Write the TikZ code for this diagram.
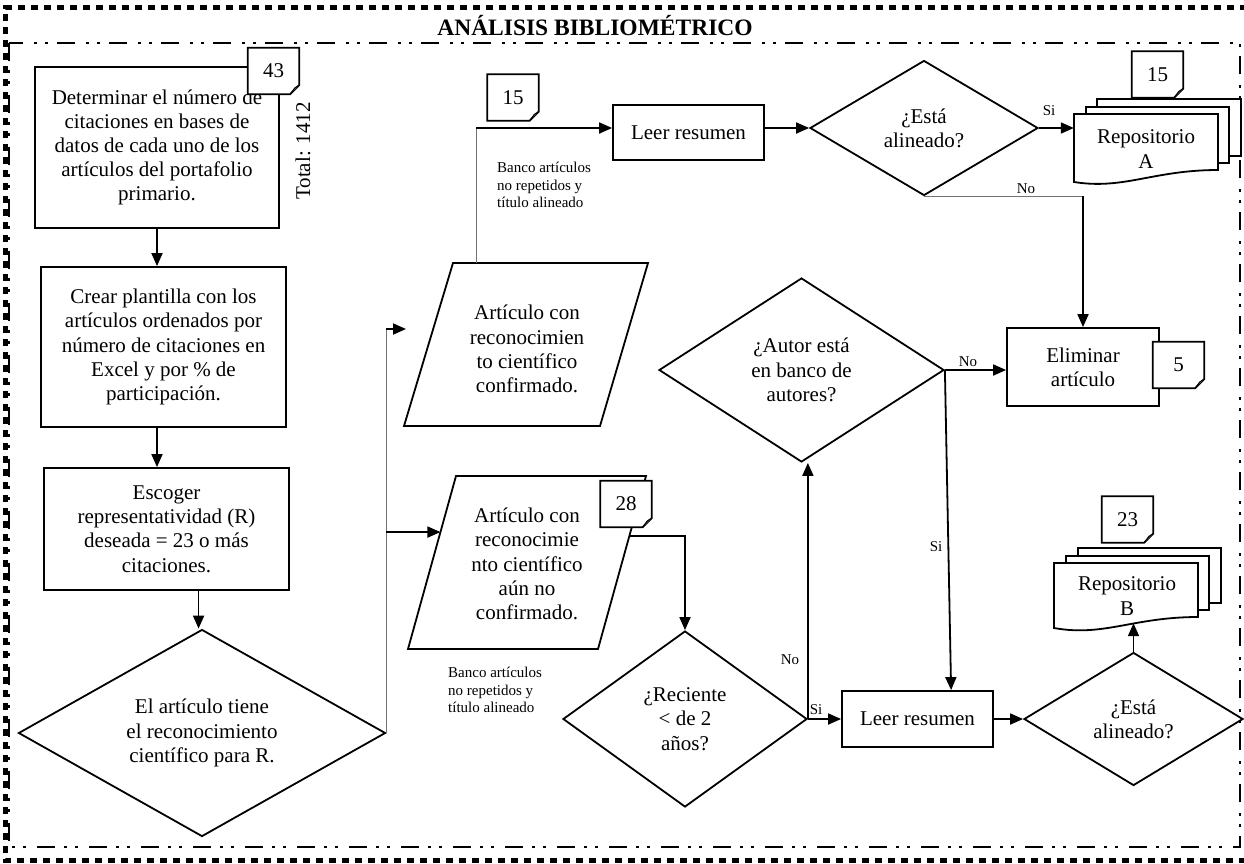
\documentclass[tikz,border=0pt]{standalone}
\usepackage{fontspec}
\setmainfont{Liberation Serif}
\usetikzlibrary{arrows.meta,shapes.geometric,calc}

\newcommand\bigtext{\fontsize{21pt}{24.2pt}\selectfont}
\newcommand\smalltext{\fontsize{15pt}{17.5pt}\selectfont}

% outline of a numbered note with a curled bottom-right corner
\newcommand\notecurl[1]{%
  \draw[ln] (#1.north west) -- (#1.north east) -- ($(#1.south east)+(0,-9)$)
    -- ($(#1.south east)+(-9,0)$) -- (#1.south west) -- cycle;
  \draw[line width=1.1pt, fill=black!55] ($(#1.south east)+(0,-9)$)
    .. controls ($(#1.south east)+(-5,-6)$) .. ($(#1.south east)+(-6,-4)$)
    -- ($(#1.south east)+(-9,0)$);
}

\tikzset{
  ln/.style={line width=1.8pt, draw=black},
  procbox/.style={rectangle, ln, fill=white, inner sep=0pt, align=center, font=\bigtext},
  decision/.style={diamond, ln, fill=white, inner sep=0pt, align=center, font=\bigtext},
  plain/.style={inner sep=0pt, align=center, font=\bigtext},
  notebox/.style={rectangle, fill=white, inner sep=0pt, minimum width=51pt, minimum height=46pt, font=\bigtext},
  flow/.style={line width=1.8pt, draw=black, -{Triangle[length=13pt,width=11pt]}},
  faint/.style={line width=1.4pt, draw=black!55},
  yesno/.style={font=\smalltext, inner sep=0pt, anchor=base},
  bank/.style={font=\smalltext, align=left, inner sep=0pt, anchor=west},
}

\begin{document}
\begin{tikzpicture}[x=1pt, y=-1pt]
\useasboundingbox (0,0) rectangle (1244,863);
\clip (0,0) rectangle (1244,863);

% frames
\draw[line width=5pt, dash pattern=on 7pt off 6pt]
  (1260,7.5) -- (5.5,7.5) -- (5.5,860.5) -- (1260,860.5);
\draw[line width=2.6pt, dash pattern=on 18pt off 9pt on 3pt off 8pt on 3pt off 11pt]
  (9,43) rectangle (1240,847);
\node[font=\fontsize{23.5pt}{26pt}\selectfont\bfseries, anchor=base, inner sep=0pt]
  (title) at (595,35) {ANÁLISIS BIBLIOMÉTRICO};

% left column
\node[procbox, minimum width=244pt, minimum height=161pt] (b1) at (157,147.5)
  {Determinar el número de\\citaciones en bases de\\datos de cada uno de los\\artículos del portafolio\\primario.};
\node[notebox] (n43) at (273.5,71) {43};
\notecurl{n43}
\node[plain, rotate=90] (tot) at (303,151) {Total: 1412};

\node[procbox, minimum width=245pt, minimum height=160pt] (b2) at (163.5,347)
  {Crear plantilla con los\\artículos ordenados por\\número de citaciones en\\Excel y por \% de\\participación.};
\node[procbox, minimum width=245pt, minimum height=122pt] (b3) at (166.5,529)
  {Escoger\\representatividad (R)\\deseada = 23 o más\\citaciones.};
\node[decision, aspect=1.77, minimum width=367pt, minimum height=207pt] (d1) at (202,733)
  {El artículo tiene\\el reconocimiento\\científico para R.};

\draw[flow] (b1.south) -- (b1.south |- b2.north);
\draw[flow] (b2.south -| b1.south) -- (b1.south |- b3.north);
\coordinate (s3) at ($(b3.south west)!0.63!(b3.south east)$);
\draw[flow] (s3) -- (s3 |- d1.north);

% parallelograms
\coordinate (p1tl) at (453,263); \coordinate (p1tr) at (648,263);
\coordinate (p1br) at (600,426); \coordinate (p1bl) at (404,426);
\draw[ln, fill=white] (p1tl) -- (p1tr) -- (p1br) -- (p1bl) -- cycle;
\node[plain] (p1) at (527,349) {Artículo con\\reconocimien\\to científico\\confirmado.};

\coordinate (p2tl) at (456,476); \coordinate (p2tr) at (646,476);
\coordinate (p2br) at (598,649); \coordinate (p2bl) at (408,649);
\draw[ln, fill=white] (p2tl) -- (p2tr) -- (p2br) -- (p2bl) -- cycle;
\node[plain] (p2) at (527,564) {Artículo con\\reconocimie\\nto científico\\aún no\\confirmado.};
\node[notebox] (n28) at (626,504) {28};
\notecurl{n28}

% branch out of the first decision
\coordinate (jtop) at (387,329);
\coordinate (p1in) at (406,329);
\coordinate (p2in) at ($(p2bl)!0.676!(p2tl)$);
\draw[faint] (d1.east) -- (d1.east |- jtop);
\draw[flow] (d1.east |- jtop) -- (p1in);
\draw[flow] (p2in -| d1.east) -- (p2in);

% upper row
\node[procbox, minimum width=151pt, minimum height=55pt] (l1) at (688.5,132.5) {Leer resumen};
\node[decision, aspect=1.69, minimum width=228pt, minimum height=135pt] (dA) at (924,128)
  {¿Está\\alineado?};
\node[notebox] (n15a) at (513,97.5) {15};
\notecurl{n15a}
\node[bank] (bank1) at (497,185) {Banco artículos\\no repetidos y\\título alineado};

\coordinate (p1up) at ($(p1tl)!0.12!(p1tr)$);
\coordinate (c1) at (p1up |- dA.west);
\draw[faint] (p1up) -- (c1);
\draw[flow] (c1) -- (c1 -| l1.west);
\draw[flow] (l1.east |- dA.west) -- (dA.west);

% repository A
\draw[ln, fill=white] (1097,99) rectangle (1241,156);
\draw[ln, fill=white] (1086,107) rectangle (1229,163);
\draw[ln, fill=white] (1074,114) -- (1218,114) -- (1218,170)
  .. controls (1153,170) and (1124,190) .. (1074,182) -- cycle;
\node[plain, minimum width=144pt] (repA) at (1146,149) {Repositorio\\A};
\node[notebox] (n15b) at (1157.5,74.5) {15};
\notecurl{n15b}

\draw[flow] (dA.east) -- (dA.east -| repA.west);
\node[yesno] (siA) at (1049,115) {Si};

% removal
\node[procbox, minimum width=152pt, minimum height=78pt] (el) at (1083,367) {Eliminar\\artículo};
\node[notebox] (n5) at (1178.5,365) {5};
\notecurl{n5}
\draw[faint] (dA.south) -- (dA.south -| el.north);
\draw[flow] (dA.south -| el.north) -- (el.north);
\node[yesno] (noA) at (1026,193) {No};

% author check
\node[decision, aspect=1.55, minimum width=285pt, minimum height=184pt] (dAu) at (801.5,370)
  {¿Autor está\\en banco de\\autores?};
\draw[flow] (dAu.east) -- (dAu.east -| el.west);
\node[yesno] (noAu) at (968,366) {No};

% lower row
\node[decision, aspect=1.39, minimum width=244pt, minimum height=176pt] (dR) at (685,719)
  {¿Reciente\\< de 2\\años?};
\node[procbox, minimum width=151pt, minimum height=56pt] (l2) at (917.5,719) {Leer resumen};
\node[decision, aspect=1.65, minimum width=219pt, minimum height=133pt] (dB) at (1133.5,719)
  {¿Está\\alineado?};
\node[bank] (bank2) at (448,690) {Banco artículos\\no repetidos y\\título alineado};

\coordinate (p2out) at ($(p2br)!0.653!(p2tr)$);
\draw[flow] (p2out) -| (dR.north);
\draw[flow] (dR.east) -- (dR.east |- dAu.south);
\node[yesno] (noR) at (790,664) {No};
\draw[flow] (dR.east) -- (dR.east -| l2.west);
\node[yesno] (siR) at (816,714) {Si};

\coordinate (l2top) at ($(l2.north west)!0.72!(l2.north east)$);
\draw[flow] (dAu.east) -- (l2top);
\node[yesno] (siAu) at (936,551) {Si};

\draw[flow] (l2.east) -- (dB.west);

% repository B
\draw[ln, fill=white] (1078,548) rectangle (1221,603);
\draw[ln, fill=white] (1066,556) rectangle (1209,610);
\draw[ln, fill=white] (1054,563) -- (1198,563) -- (1198,617)
  .. controls (1133,617) and (1104,637) .. (1054,628) -- cycle;
\node[plain, minimum width=143pt, minimum height=54pt] (repB) at (1127,596) {Repositorio\\B};
\node[notebox] (n23) at (1127.5,519.5) {23};
\notecurl{n23}
\draw[flow] (dB.north) -- (dB.north |- repB.south);
\end{tikzpicture}
\end{document}
